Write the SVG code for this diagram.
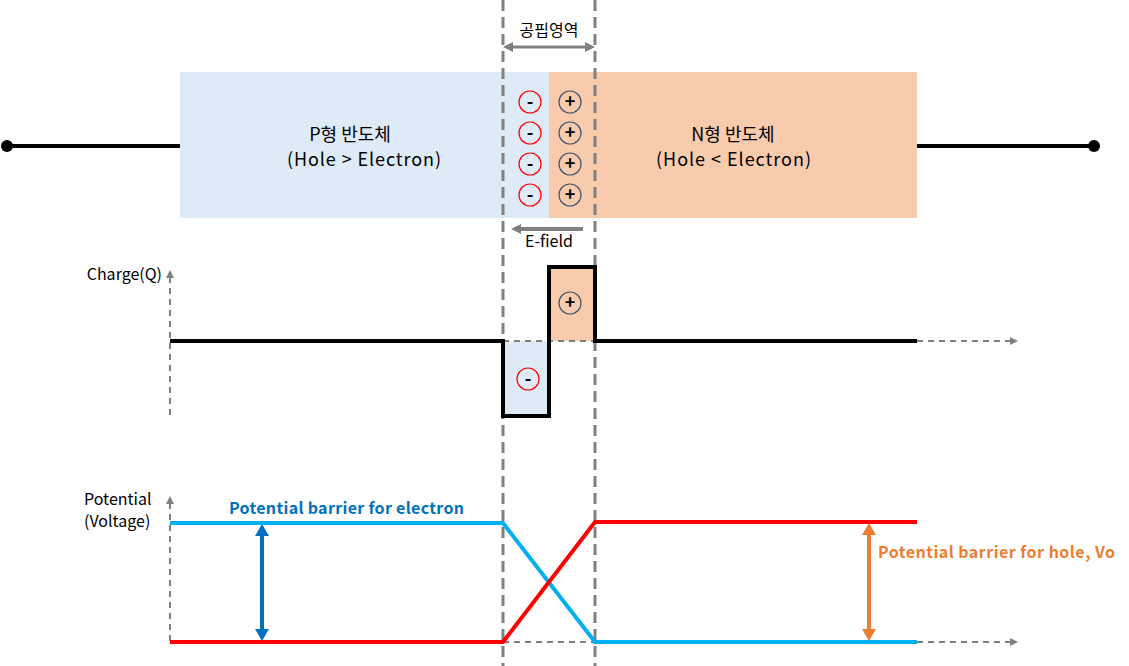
<svg xmlns="http://www.w3.org/2000/svg" width="1129" height="666" viewBox="0 0 1129 666">
<style>
text{font-family:"Noto Sans CJK KR","Noto Sans",sans-serif;fill:#000}
.big{font-size:18px}
.sm{font-size:16px}
.axis{stroke:#808080;stroke-width:2;stroke-dasharray:6 5;fill:none}
.bound{stroke:#808080;stroke-width:3;stroke-dasharray:11 6;fill:none}
.neg{fill:none;stroke:#FF0000;stroke-width:1.2}
.pos{fill:none;stroke:#44546A;stroke-width:1.2}
.sign{font-size:18px;font-weight:bold;text-anchor:middle}
</style>
<defs>
<marker id="ga" markerWidth="8" markerHeight="8" refX="6" refY="4" orient="auto" markerUnits="userSpaceOnUse"><path d="M0,0 L8,4 L0,8 Z" fill="#808080"/></marker>
<marker id="gA" markerWidth="10" markerHeight="10" refX="7" refY="5" orient="auto-start-reverse" markerUnits="userSpaceOnUse"><path d="M0,0 L10,5 L0,10 Z" fill="#808080"/></marker>
<marker id="ba" markerWidth="12" markerHeight="14" refX="9" refY="7" orient="auto-start-reverse" markerUnits="userSpaceOnUse"><path d="M0,0 L12,7 L0,14 Z" fill="#0070C0"/></marker>
<marker id="oa" markerWidth="12" markerHeight="14" refX="9" refY="7" orient="auto-start-reverse" markerUnits="userSpaceOnUse"><path d="M0,0 L12,7 L0,14 Z" fill="#ED7D31"/></marker>
</defs>

<g id="p-region">
<rect x="180" y="72" width="369" height="146" fill="#DEEBF7"/>
<text class="big" x="350" y="141" text-anchor="middle">P형 반도체</text>
<text class="big" x="287" y="166" textLength="154" lengthAdjust="spacing">(Hole &gt; Electron)</text>
</g>
<g id="n-region">
<rect x="549" y="72" width="368" height="146" fill="#F8CBAD"/>
<text class="big" x="733" y="141" text-anchor="middle">N형 반도체</text>
<text class="big" x="656" y="166" textLength="155" lengthAdjust="spacing">(Hole &lt; Electron)</text>
</g>

<g id="wires">
<line x1="6" y1="146" x2="180" y2="146" stroke="#000" stroke-width="4"/>
<circle cx="7" cy="146" r="6" fill="#000"/>
<line x1="917" y1="146" x2="1094" y2="146" stroke="#000" stroke-width="4"/>
<circle cx="1094" cy="146" r="6" fill="#000"/>
</g>

<g id="ions">
<circle class="neg" cx="530" cy="102" r="11"/><text class="sign" x="530" y="108">-</text>
<circle class="neg" cx="530" cy="133" r="11"/><text class="sign" x="530" y="139">-</text>
<circle class="neg" cx="530" cy="164" r="11"/><text class="sign" x="530" y="170">-</text>
<circle class="neg" cx="530" cy="195" r="11"/><text class="sign" x="530" y="201">-</text>
<circle class="pos" cx="570" cy="102" r="11"/><text class="sign" x="570" y="108">+</text>
<circle class="pos" cx="570" cy="133" r="11"/><text class="sign" x="570" y="139">+</text>
<circle class="pos" cx="570" cy="164" r="11"/><text class="sign" x="570" y="170">+</text>
<circle class="pos" cx="570" cy="195" r="11"/><text class="sign" x="570" y="201">+</text>
</g>

<g id="depletion-label">
<text class="sm" x="549" y="36" text-anchor="middle">공핍영역</text>
<line x1="506" y1="47" x2="592" y2="47" stroke="#808080" stroke-width="3" marker-start="url(#gA)" marker-end="url(#gA)"/>
</g>

<g id="efield">
<line x1="583" y1="229" x2="514" y2="229" stroke="#808080" stroke-width="4" marker-end="url(#gA)"/>
<text class="sm" x="549" y="247" text-anchor="middle">E-field</text>
</g>

<g id="charge-plot">
<text class="sm" x="162" y="280" text-anchor="end">Charge(Q)</text>
<rect x="503" y="341" width="46" height="75" fill="#DEEBF7"/>
<rect x="549" y="267" width="46" height="74" fill="#F8CBAD"/>
<circle class="neg" cx="528" cy="379" r="11"/><text class="sign" x="528" y="385">-</text>
<circle class="pos" cx="570" cy="303" r="11"/><text class="sign" x="570" y="309">+</text>
</g>

<g id="potential-plot">
<text class="sm" x="84" y="505">Potential</text>
<text class="sm" x="84" y="527">(Voltage)</text>
<text x="229" y="514" font-size="16" font-weight="bold" textLength="235" lengthAdjust="spacing" style="fill:#0070C0">Potential barrier for electron</text>
<text x="878" y="558" font-size="16" font-weight="bold" textLength="237" lengthAdjust="spacing" style="fill:#ED7D31">Potential barrier for hole, Vo</text>
</g>

<g id="connectors">
<line class="bound" x1="503" y1="0" x2="503" y2="666"/>
<line class="bound" x1="595" y1="0" x2="595" y2="666"/>
<line class="axis" x1="170" y1="415" x2="170" y2="272" marker-end="url(#ga)"/>
<line class="axis" x1="503" y1="341" x2="595" y2="341"/>
<line class="axis" x1="917" y1="341" x2="1016" y2="341" marker-end="url(#ga)"/>
<polyline points="170,341 503,341 503,416 549,416 549,267 595,267 595,341 917,341" fill="none" stroke="#000" stroke-width="4"/>
<line class="axis" x1="170" y1="641" x2="170" y2="498" marker-end="url(#ga)"/>
<line class="axis" x1="503" y1="642" x2="595" y2="642"/>
<line class="axis" x1="917" y1="642" x2="1016" y2="642" marker-end="url(#ga)"/>
<polyline points="170,523 503,523 595,642 917,642" fill="none" stroke="#00B0F0" stroke-width="4"/>
<polyline points="170,642 503,642 595,522 917,522" fill="none" stroke="#FF0000" stroke-width="4"/>
<line x1="262" y1="527" x2="262" y2="638" stroke="#0070C0" stroke-width="4" marker-start="url(#ba)" marker-end="url(#ba)"/>
<line x1="869" y1="526" x2="869" y2="638" stroke="#ED7D31" stroke-width="4" marker-start="url(#oa)" marker-end="url(#oa)"/>
</g>
</svg>
